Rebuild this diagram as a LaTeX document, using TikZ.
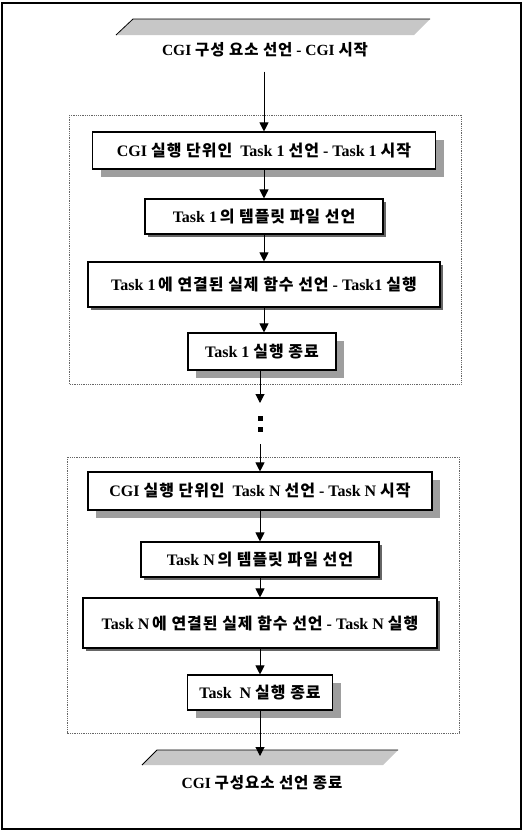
\documentclass[tikz,border=0pt]{standalone}
\usepackage{fontspec}
\setmainfont{Liberation Serif}
\newfontfamily\krfont{Noto Sans CJK KR}[LetterSpace=6]
\usetikzlibrary{arrows.meta,shadows}
\newcommand\K[1]{{\krfont #1}}

\tikzset{
  stepbox/.style={draw, line width=1.1pt, fill=white, inner sep=0pt,
    font=\bfseries\fontsize{16}{18}\selectfont},
  bigshade/.style={drop shadow={shadow xshift=8pt, shadow yshift=-8pt, fill=black!38, opacity=1}},
  thinshade/.style={drop shadow={shadow xshift=3pt, shadow yshift=-3pt, fill=black!60, opacity=1}},
  frame/.style={draw=black!60, densely dotted, line width=0.8pt},
  arr/.style={line width=1pt, -{Triangle[length=9pt,width=9pt]}},
  banner/.style={fill=black!22},
  heading/.style={font=\bfseries\fontsize{15.5}{18}\selectfont, inner sep=0pt}
}

\begin{document}
\begin{tikzpicture}[x=1pt,y=-1pt]
\useasboundingbox (0,0) rectangle (523,831);

% outer border
\draw[line width=1.4pt] (2,3) rectangle (521,829);

% opening banner and title
\fill[banner] (116,35) -- (133,19) -- (430,19) -- (414,35) -- cycle;
\draw[line width=0.8pt] (116,35) -- (133,19) -- (430,19);
\node[heading] (title) at (265,50) {CGI \K{구성 요소 선언} - CGI \K{시작}};

% first task block
\draw[frame] (69,115) rectangle (461,384);
\node[stepbox, bigshade, minimum width=343pt, minimum height=37pt] (b1) at (264,150.5)
  {CGI \K{실행 단위인}\enspace Task 1 \K{선언} - Task 1 \K{시작}};
\node[stepbox, thinshade, minimum width=238pt, minimum height=35pt] (b2) at (264,216.5)
  {Task 1\,\K{의 템플릿 파일 선언}};
\node[stepbox, thinshade, minimum width=352pt, minimum height=45pt] (b3) at (264,284.5)
  {Task 1\,\K{에 연결된 실제 함수 선언} - Task1 \K{실행}};
\node[stepbox, bigshade, minimum width=148pt, minimum height=37pt] (b4) at (262,351.5)
  {Task 1 \K{실행 종료}};

\draw[arr, shorten <=14pt] (title.south -| b1.north) -- (b1.north);
\draw[arr] (b1) -- (b2);
\draw[arr] (b2) -- (b3);
\draw[arr] (b3.south) -- (b3.south |- b4.north);

% ellipsis between blocks
\node[fill, minimum size=5pt, inner sep=0pt] (d1) at (260,418) {};
\node[fill, minimum size=5pt, inner sep=0pt] (d2) at (260,429) {};
\coordinate (gapend) at (260,403);
\coordinate (gapstart) at (260,444);
\draw[arr] (b4.south -| d1) -- (gapend);

% last task block
\draw[frame] (67,457) rectangle (459,733);
\node[stepbox, bigshade, minimum width=344pt, minimum height=38pt] (n1) at (260,491)
  {CGI \K{실행 단위인}\enspace Task N \K{선언} - Task N \K{시작}};
\node[stepbox, thinshade, minimum width=238pt, minimum height=35pt] (n2) at (260,559.5)
  {Task N\,\K{의 템플릿 파일 선언}};
\node[stepbox, thinshade, minimum width=354pt, minimum height=50pt] (n3) at (260,623)
  {Task N\,\K{에 연결된 실제 함수 선언} - Task N \K{실행}};
\node[stepbox, bigshade, minimum width=145pt, minimum height=35pt] (n4) at (260,692.5)
  {Task\enspace N \K{실행 종료}};

\draw[arr] (gapstart) -- (n1.north -| gapstart);
\draw[arr] (n1) -- (n2);
\draw[arr] (n2) -- (n3);
\draw[arr] (n3) -- (n4);

% closing banner and title
\fill[banner] (142,765) -- (157,750) -- (398,750) -- (383,765) -- cycle;
\draw[line width=0.8pt] (142,765) -- (157,750) -- (398,750);
\coordinate (endtip) at (260,756);
\draw[arr] (n4.south) -- (endtip);
\node[heading] (closing) at (262,783) {CGI \K{구성요소 선언 종료}};
\end{tikzpicture}
\end{document}
